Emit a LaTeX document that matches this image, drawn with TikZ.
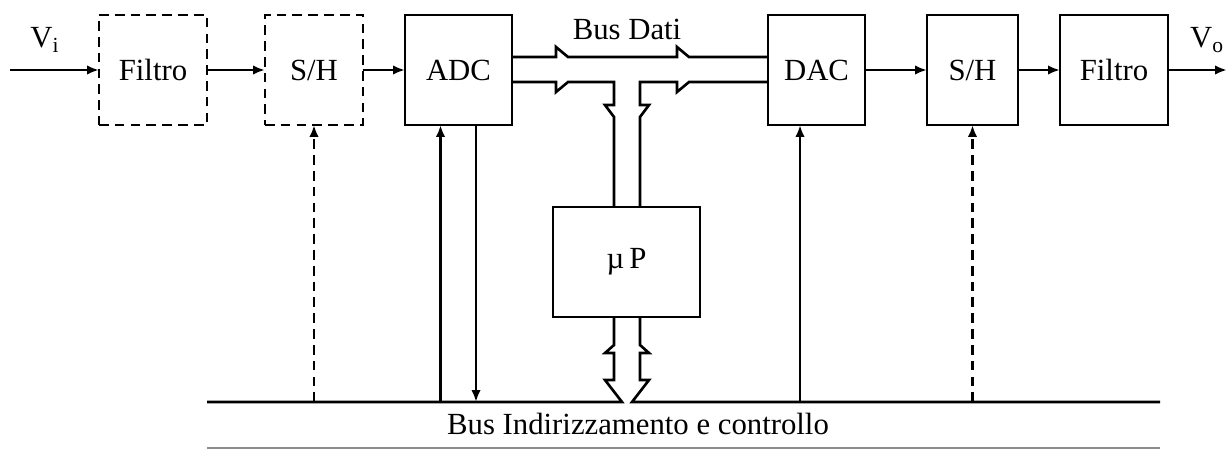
\documentclass[tikz,border=0pt]{standalone}
\usepackage{fontspec}
\setmainfont{Liberation Serif}
\usetikzlibrary{arrows.meta,calc}
\tikzset{
	blk/.style={draw, line width=1.5pt, inner sep=0pt, outer sep=0pt, minimum height=2.2cm},
	dblk/.style={blk, dash pattern=on 5.5pt off 3.5pt},
	sig/.style={line width=1.5pt, -{Latex[length=2.4mm,width=1.9mm]}},
	dsig/.style={sig, dash pattern=on 5.5pt off 3.5pt},
	bus/.style={line width=1.5pt, line join=miter},
}
\begin{document}
\begin{tikzpicture}[x=0.02cm, y=-0.02cm, font=\fontsize{17.5}{20}\selectfont]
	\useasboundingbox (0,0) rectangle (1227,450) ;
	% catena del segnale
		\node (f1)[dblk, minimum width=2.16cm] at (153,70) {Filtro} ; 
		\node (sh1)[dblk, minimum width=1.96cm] at (314,70) {S/H} ; 
		\node (adc)[blk, minimum width=2.14cm] at (458.5,70) {ADC} ; 
		\node (dac)[blk, minimum width=1.94cm] at (816.5,70) {DAC} ; 
		\node (sh2)[blk, minimum width=1.82cm] at (972.5,70) {S/H} ; 
		\node (f2)[blk, minimum width=2.16cm] at (1114,70) {Filtro} ; 
		\node (up)[blk, minimum width=2.94cm] at (626.5,262) {µ\,P} ; 
		\node (vi) at (45,40) {V\textsubscript{i}} ; 
		\node (vo) at (1207,40) {V\textsubscript{o}} ; 
		\node (bd) at (627,29) {Bus Dati} ; 
		\node (bi) at (638,424) {Bus Indirizzamento e controllo} ; 
		\coordinate (in) at (10,70) ; 
		\coordinate (out) at (1227,70) ; 
		\coordinate (busL) at (207,402) ; 
		\coordinate (busR) at (1160,402) ; 
		\coordinate (a1) at ($(adc.south)+(-18,0)$) ; 
		\coordinate (a2) at ($(adc.south)+(17.5,0)$) ; 
		\coordinate (d1) at ($(dac.south)+(-16.5,0)$) ; 
	\draw[sig] (in) -- (f1) ;
	\draw[sig] (f1) -- (sh1) ;
	\draw[sig] (sh1) -- (adc) ;
	\draw[sig] (dac) -- (sh2) ;
	\draw[sig] (sh2) -- (f2) ;
	\draw[sig] (f2) -- (out) ;
	% controlli dal bus
	\draw[dsig] (sh1.south |- busL) -- (sh1.south) ;
	\draw[sig] (a1 |- busL) -- (a1) ;
	\draw[sig] (a2) -- (a2 |- busL) ;
	\draw[sig] (d1 |- busL) -- (d1) ;
	\draw[dsig] (sh2.south |- busL) -- (sh2.south) ;
	% bus dati
	\draw[bus] (adc.east |- 0,57) -- (556,57) -- (556,47) -- (568,57) -- (677,57) -- (677,47) -- (689,57) -- (dac.west |- 0,57) ;
	\draw[bus] (adc.east |- 0,82) -- (556,82) -- (556,92) -- (568,82) -- (614,82) -- (614,105) -- (605,105) -- (614,117) -- (up.north -| 614,0) ;
	\draw[bus] (up.north -| 640,0) -- (640,117) -- (649,105) -- (640,105) -- (640,82) -- (677,82) -- (677,92) -- (689,82) -- (dac.west |- 0,82) ;
	% bus indirizzi
	\draw[bus] (up.south -| 614,0) -- (614,345) -- (605,353) -- (614,353) -- (614,380) -- (605,380) -- (622,402) -- (busL) ;
	\draw[bus] (up.south -| 640,0) -- (640,345) -- (649,353) -- (640,353) -- (640,380) -- (649,380) -- (632,402) -- (busR) ;
	\draw[line width=0.8pt, black!45] (207,448) -- (1160,448) ;
\end{tikzpicture}
\end{document}
